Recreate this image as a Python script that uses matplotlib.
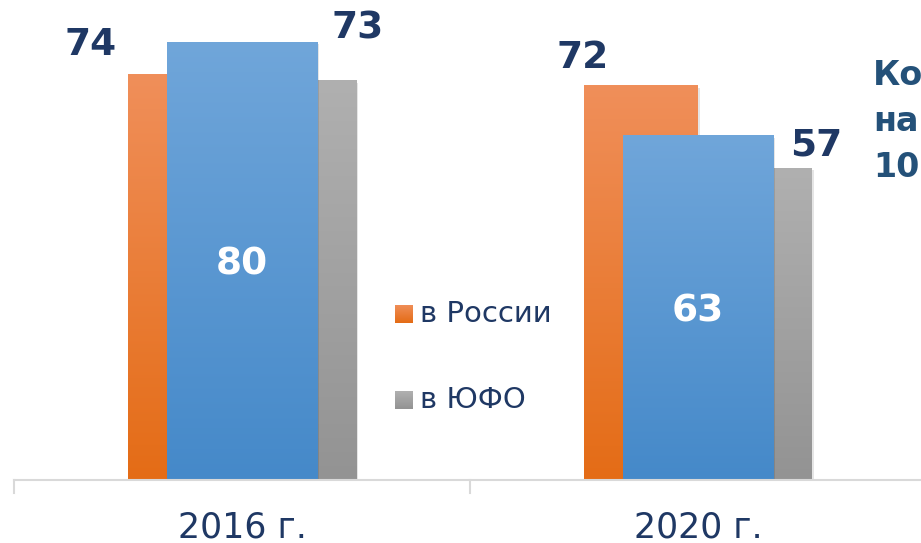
import numpy as np
import matplotlib
matplotlib.use("Agg")
import matplotlib.pyplot as plt
from matplotlib.colors import LinearSegmentedColormap

# data
years = ["2016 г.", "2020 г."]
russia = [74, 72]
region = [80, 63]
yufo = [73, 57]
legend_labels = ["в России", "в ЮФО"]
title_lines = ["Ко", "на", "10"]

navy = "#1F3864"
W, H = 921, 543

fig = plt.figure(figsize=(W / 100, H / 100), dpi=100)
# axes placed so baseline sits near y=480px, categories 456px wide
ax = fig.add_axes([14 / W, 63 / H, 912 / W, 85 * 5.48 / H])
ax.set_xlim(-0.5, 1.5)
ax.set_ylim(0, 85)
ax.axis("off")

x = np.arange(len(years))


def gradient_bars(xs, heights, width, top, bottom, z):
    cmap = LinearSegmentedColormap.from_list("g", [bottom, top])
    bars = ax.bar(xs, heights, width=width, color="none", zorder=z)
    grad = np.linspace(0, 1, 256).reshape(-1, 1)
    for b in bars:
        x0, w, h = b.get_x(), b.get_width(), b.get_height()
        # soft shadow
        ax.bar(x0 + w / 2 + 0.004, h, width=w, bottom=-0.5, color="black",
               alpha=0.10, zorder=z - 0.5, linewidth=0)
        im = ax.imshow(grad, extent=[x0, x0 + w, 0, h], origin="lower",
                       cmap=cmap, aspect="auto", zorder=z)
        im.set_clip_path(b)
    return bars


b_ru = gradient_bars(x - 0.125, russia, 0.25, "#F08F5A", "#E46C16", 2)
b_yu = gradient_bars(x + 0.125, yufo, 0.25, "#B0B0B0", "#939393", 2)
b_rg = gradient_bars(x, region, 0.33, "#70A6DA", "#4589C9", 4)
ax.set_xlim(-0.5, 1.5)
ax.set_ylim(0, 85)

# outer value labels (offsets in points, manually placed like the original)
ru_off = [(-68, 21), (-42, 20)]
yu_off = [(42, 37), (44, 16)]
for i in range(len(years)):
    ax.annotate(str(russia[i]), (x[i] - 0.125, russia[i]), xytext=ru_off[i],
                textcoords="offset points", ha="center", va="center",
                fontsize=27, fontweight="bold", color=navy, zorder=6)
    ax.annotate(str(yufo[i]), (x[i] + 0.125, yufo[i]), xytext=yu_off[i],
                textcoords="offset points", ha="center", va="center",
                fontsize=27, fontweight="bold", color=navy, zorder=6)
    ax.annotate(str(region[i]), (x[i], region[i] / 2), xytext=(0, -3),
                textcoords="offset points", ha="center", va="center",
                fontsize=27, fontweight="bold", color="white", zorder=6)

# axis line with category ticks
line_y = 480
fig.add_artist(plt.Line2D([14 / W, 1], [1 - line_y / H] * 2, color="#D9D9D9", lw=1.5))
for px in [14, 470]:
    fig.add_artist(plt.Line2D([px / W] * 2, [1 - line_y / H, 1 - 493 / H],
                              color="#D9D9D9", lw=1.5))
for i, lab in enumerate(years):
    ax.annotate(lab, (x[i], 0), xytext=(0, -34), textcoords="offset points",
                ha="center", va="center", fontsize=25, color=navy,
                annotation_clip=False)

# legend
leg_colors = [("#F08F5A", "#E46C16"), ("#B0B0B0", "#939393")]
leg_y = [314, 400]
for (top, bot), yy, lab in zip(leg_colors, leg_y, legend_labels):
    sq = fig.add_axes([395 / W, 1 - (yy + 9) / H, 18 / W, 18 / H])
    sq.imshow(np.linspace(0, 1, 32).reshape(-1, 1), origin="lower",
              cmap=LinearSegmentedColormap.from_list("s", [bot, top]), aspect="auto")
    sq.axis("off")
    fig.text(420 / W, 1 - yy / H, lab, ha="left", va="center", fontsize=21, color=navy)

# cut-off title on the right
for k, t in enumerate(title_lines):
    fig.text(873 / W, 1 - (85 + 46 * k) / H, t, ha="left", va="baseline",
             fontsize=24, fontweight="bold", color="#245179")

fig.savefig("out.png", dpi=100)
